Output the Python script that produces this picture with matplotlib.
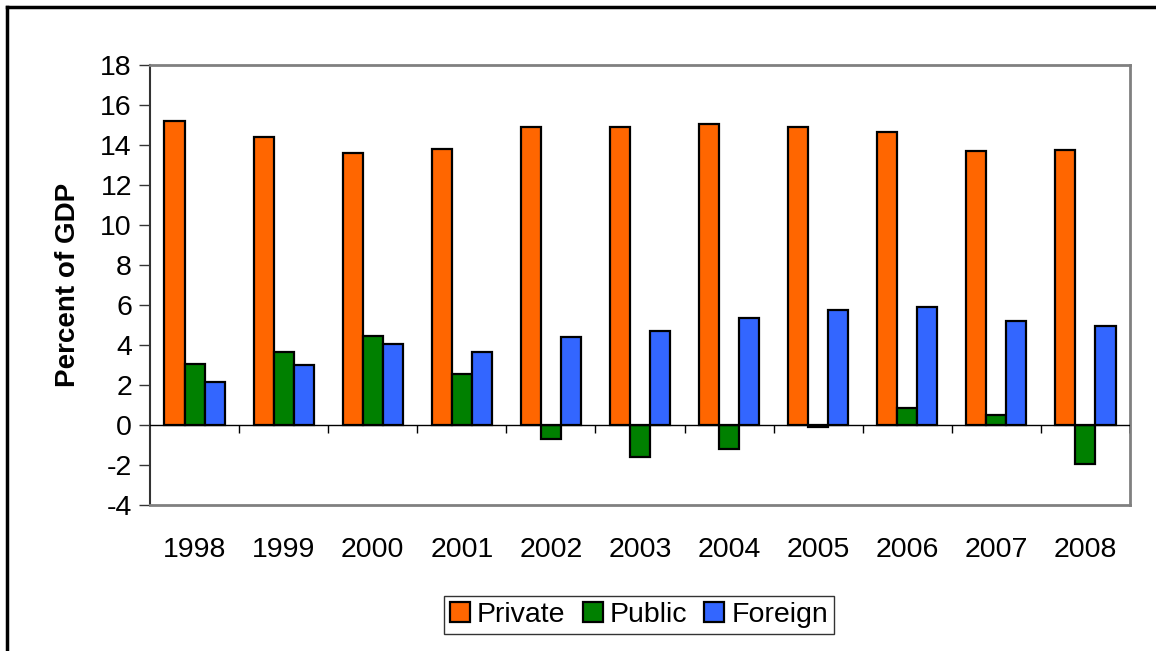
import numpy as np
import matplotlib
matplotlib.use("Agg")
import matplotlib.pyplot as plt
from matplotlib.lines import Line2D

years = ["1998", "1999", "2000", "2001", "2002", "2003", "2004", "2005", "2006", "2007", "2008"]
private = [15.2, 14.4, 13.6, 13.8, 14.9, 14.9, 15.05, 14.9, 14.65, 13.7, 13.75]
public = [3.05, 3.65, 4.45, 2.55, -0.7, -1.6, -1.2, -0.1, 0.85, 0.5, -1.95]
foreign = [2.15, 3.0, 4.05, 3.65, 4.4, 4.7, 5.35, 5.75, 5.9, 5.2, 4.95]
series_names = ["Private", "Public", "Foreign"]
colors = ["#FF6600", "#008000", "#3366FF"]
yticks = list(range(-4, 19, 2))

plt.rcParams["font.family"] = ["Liberation Sans", "DejaVu Sans"]
plt.rcParams["axes.unicode_minus"] = False

fig = plt.figure(figsize=(11.56, 6.51), dpi=100)
ax = fig.add_axes([150 / 1156, 1 - 505 / 651, 980 / 1156, (505 - 64.7) / 651])

x = np.arange(len(years))
w = 0.225
for i, (vals, name, c) in enumerate(zip([private, public, foreign], series_names, colors)):
    ax.bar(x + (i - 1) * w, vals, width=w, color=c, edgecolor="black",
           linewidth=1.6, label=name, zorder=3)

ax.set_xlim(-0.5, len(years) - 0.5)
ax.set_ylim(-4, 18)
ax.set_yticks(yticks)
ax.set_xticks(x)
ax.set_xticklabels(years)
ax.tick_params(axis="y", length=8, width=1, color="#333333", labelsize=20.5, pad=5)
ax.tick_params(axis="x", length=0, labelsize=20.5, pad=23)

# zero line with category separator ticks
ax.axhline(0, color="black", linewidth=1, zorder=4)
bounds = np.arange(len(years) + 1) - 0.5
ax.vlines(bounds[1:], -0.4, 0, color="black", linewidth=1, zorder=4)

for s in ["top", "right", "bottom"]:
    ax.spines[s].set_color("#808080")
    ax.spines[s].set_linewidth(2)
ax.spines["left"].set_color("#333333")
ax.spines["left"].set_linewidth(1.5)

ax.set_ylabel("Percent of GDP", fontsize=20, fontweight="bold", labelpad=14)

leg = ax.legend(loc="center", bbox_to_anchor=(639 / 1156, 1 - 615 / 651),
                bbox_transform=fig.transFigure, ncol=3, fontsize=20.5,
                frameon=True, fancybox=False, handlelength=0.7, handleheight=0.7,
                handletextpad=0.25, columnspacing=0.6, borderpad=0.2,
                borderaxespad=0)
leg.get_frame().set_edgecolor("black")
leg.get_frame().set_linewidth(1)

# outer chart border (top and left visible)
fig.add_artist(Line2D([7 / 1156, 1], [1 - 7 / 651, 1 - 7 / 651], color="black", linewidth=2.5,
                      transform=fig.transFigure))
fig.add_artist(Line2D([7 / 1156, 7 / 1156], [0, 1 - 7 / 651], color="black", linewidth=2.5,
                      transform=fig.transFigure))

fig.savefig("out.png", dpi=100)
